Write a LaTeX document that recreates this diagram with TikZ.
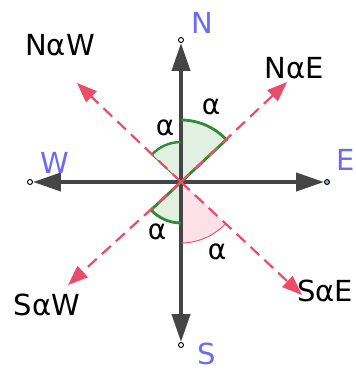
\documentclass[tikz,border=0pt]{standalone}
\usepackage{fontspec}
\setmainfont{DejaVu Sans}
\usetikzlibrary{positioning}
\usetikzlibrary{arrows.meta}
\definecolor{axisgray}{HTML}{454545}
\definecolor{dirpink}{HTML}{EE4A6A}
\definecolor{cardblue}{HTML}{6B6BF2}
\definecolor{anggreen}{HTML}{2F8A36}
\definecolor{angfill}{HTML}{E2F0E2}
\definecolor{pinkfill}{HTML}{FCE2E8}
\definecolor{ptfill}{HTML}{A0A0FF}

\begin{document}
\begin{tikzpicture}[x=1pt,y=1pt]
    % Stili
    \tikzset{
        point/.style={
            circle,
            draw=black,
            fill=white,
            line width=0.9pt,
            inner sep=0pt,
            minimum size=5pt
        },
        axis/.style={
            draw=axisgray,
            line width=4pt,
            -{Triangle[length=28pt,width=18pt]}
        },
        dir/.style={
            draw=dirpink,
            line width=2.2pt,
            dash pattern=on 12pt off 7pt,
            -{Triangle[length=20pt,width=15pt,fill=dirpink]}
        },
        cardinal/.style={text=cardblue, inner sep=1pt, font=\fontsize{29}{29}\selectfont},
        dirname/.style={text=black, font=\fontsize{29}{29}\selectfont},
        anglename/.style={text=black, font=\fontsize{28}{28}\selectfont}
    }
    \useasboundingbox (0,0) rectangle (356,370);

    % Centro e punti cardinali
    \coordinate (O) at (181,188);
    \node[point] (N) at (181,330) {};
    \node[point] (S) at (181,25) {};
    \node[point] (W) at (30,188) {};
    \node[point, fill=ptfill] (E) at (327,188) {};

    % Punte delle direzioni
    \coordinate (NaE) at (287,288);
    \coordinate (NaW) at (77,287);
    \coordinate (SaW) at (68,85);
    \coordinate (SaE) at (302,75);

    % Settori degli angoli
    \fill[angfill] (O) -- ++(43:62) arc[start angle=43, end angle=90, radius=62] -- cycle;
    \fill[angfill] (O) -- ++(90:40) arc[start angle=90, end angle=137, radius=40] -- cycle;
    \fill[angfill] (O) -- ++(223:41) arc[start angle=223, end angle=270, radius=41] -- cycle;
    \fill[pinkfill] (O) -- ++(270:61) arc[start angle=270, end angle=317, radius=61] -- cycle;

    % Assi
    \draw[axis] (O) -- (N);
    \draw[axis] (O) -- (S);
    \draw[axis] (O) -- (W);
    \draw[axis] (O) -- (E);

    % Archi
    \draw[anggreen, line width=2.8pt] (O) -- ++(43:62) arc[start angle=43, end angle=90, radius=62];
    \draw[anggreen, line width=2.4pt] (O) ++(90:40) arc[start angle=90, end angle=137, radius=40];
    \draw[anggreen, line width=0.8pt] (O) -- ++(137:40);
    \draw[anggreen, line width=2.8pt] (O) -- ++(223:41) arc[start angle=223, end angle=270, radius=41];
    \draw[dirpink, line width=0.9pt] (O) ++(270:61) arc[start angle=270, end angle=317, radius=61];

    % Direzioni
    \draw[dir] (O) -- (NaE);
    \draw[dir] (O) -- (NaW);
    \draw[dir] (O) -- (SaW);
    \draw[dir] (O) -- (SaE);

    % Etichette
    \node[cardinal] (lN) at (202,347) {N};
    \node[cardinal] (lS) at (207,16) {S};
    \node[cardinal] (lW) at (55,207) {W};
    \node[cardinal] (lE) at (346,210) {E};
    \node[dirname] (lNaW) at (60,325) {NαW};
    \node[dirname] (lNaE) at (294,302) {NαE};
    \node[dirname] (lSaW) at (47,65) {SαW};
    \node[dirname] (lSaE) at (325,79) {SαE};
    \node[anglename] (a1) at (211,263) {α};
    \node[anglename] (a2) at (165,242) {α};
    \node[anglename] (a3) at (157,138) {α};
    \node[anglename] (a4) at (217,118) {α};
\end{tikzpicture}
\end{document}
